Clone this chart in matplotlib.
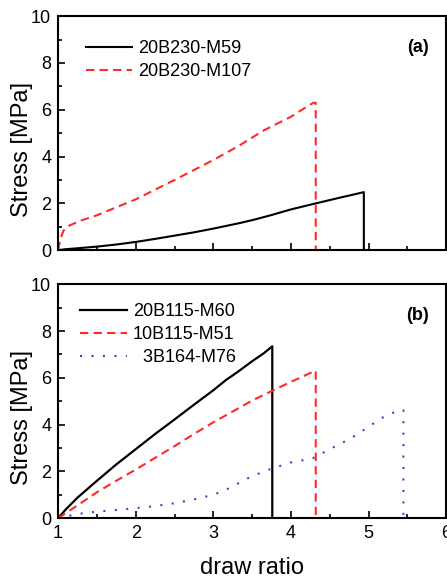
import matplotlib
matplotlib.use('Agg')
import matplotlib.pyplot as plt
from matplotlib.ticker import MultipleLocator

plt.rcParams['font.family'] = ['Liberation Sans', 'DejaVu Sans']

# panel (a)
a_m59_x = [1.0, 1.1, 1.25, 1.5, 1.75, 2.0, 2.25, 2.5, 2.75, 3.0, 3.33, 3.5, 3.75, 4.0, 4.31, 4.64, 4.8, 4.94, 4.94]
a_m59_y = [0.0, 0.04, 0.08, 0.15, 0.24, 0.35, 0.48, 0.62, 0.76, 0.92, 1.15, 1.28, 1.5, 1.74, 1.99, 2.25, 2.37, 2.48, 0.0]
a_m107_x = [1.0, 1.03, 1.07, 1.15, 1.3, 1.5, 1.75, 2.0, 2.5, 3.0, 3.33, 3.65, 4.0, 4.17, 4.29, 4.32, 4.32]
a_m107_y = [0.0, 0.48, 0.84, 1.06, 1.27, 1.49, 1.83, 2.17, 3.0, 3.85, 4.46, 5.12, 5.7, 6.06, 6.3, 6.3, 0.0]

# panel (b)
b_m60_x = [1.0, 1.1, 1.25, 1.5, 1.75, 2.0, 2.25, 2.5, 2.75, 3.0, 3.16, 3.3, 3.5, 3.65, 3.76, 3.76]
b_m60_y = [0.0, 0.38, 0.88, 1.6, 2.3, 2.95, 3.6, 4.22, 4.85, 5.47, 5.9, 6.22, 6.71, 7.05, 7.35, 0.0]
b_m51_x = [1.0, 1.25, 1.5, 1.75, 2.0, 2.25, 2.5, 2.75, 3.0, 3.26, 3.5, 3.76, 4.0, 4.15, 4.25, 4.3, 4.32, 4.32]
b_m51_y = [0.0, 0.55, 1.11, 1.6, 2.08, 2.58, 3.08, 3.6, 4.1, 4.58, 5.03, 5.45, 5.83, 6.05, 6.21, 6.3, 6.3, 0.0]
b_m76_x = [1.0, 1.25, 1.5, 1.75, 2.0, 2.25, 2.5, 2.75, 3.0, 3.16, 3.5, 3.75, 4.0, 4.28, 4.5, 4.77, 5.0, 5.16, 5.39, 5.45, 5.45]
b_m76_y = [0.0, 0.18, 0.28, 0.35, 0.43, 0.52, 0.64, 0.8, 1.0, 1.21, 1.8, 2.12, 2.38, 2.56, 2.95, 3.41, 3.9, 4.27, 4.62, 4.62, 0.0]

red = '#ff2a2a'
blue = '#2f4fc4'

fig = plt.figure(figsize=(4.47, 5.79), dpi=100)
ax1 = fig.add_axes([0.130, 0.568, 0.868, 0.404])
ax2 = fig.add_axes([0.130, 0.105, 0.868, 0.404])

ax1.plot(a_m59_x, a_m59_y, color='black', lw=1.5, label='20B230-M59')
ax1.plot(a_m107_x, a_m107_y, color=red, lw=1.5, dashes=(4, 2.5), label='20B230-M107')

ax2.plot(b_m60_x, b_m60_y, color='black', lw=1.6, label='20B115-M60')
ax2.plot(b_m51_x, b_m51_y, color=red, lw=1.5, dashes=(4, 2.5), label='10B115-M51')
ax2.plot(b_m76_x, b_m76_y, color=blue, lw=1.5, dashes=(1, 4.5), label='  3B164-M76')

for ax, tag in [(ax1, '(a)'), (ax2, '(b)')]:
    ax.set_xlim(1, 6)
    ax.set_ylim(0, 10)
    ax.xaxis.set_major_locator(MultipleLocator(1))
    ax.xaxis.set_minor_locator(MultipleLocator(0.5))
    ax.yaxis.set_major_locator(MultipleLocator(2))
    ax.yaxis.set_minor_locator(MultipleLocator(1))
    ax.tick_params(which='major', direction='in', length=5, width=1.2, labelsize=13,
                   top=False, right=False, pad=5)
    ax.tick_params(which='minor', direction='in', length=3, width=1.2, top=False, right=False)
    for s in ax.spines.values():
        s.set_linewidth(1.5)
    ax.set_ylabel('Stress [MPa]', fontsize=17)
    ax.yaxis.set_label_coords(-0.065, 0.43)
    ax.text(0.955, 0.868, tag, transform=ax.transAxes, fontsize=13, fontweight='bold',
            ha='right', va='center')

ax1.tick_params(labelbottom=False)
ax2.set_xlabel('draw ratio', fontsize=17, labelpad=11)

ax1.legend(loc='upper left', bbox_to_anchor=(0.052, 0.929), frameon=False, fontsize=13,
           handlelength=2.6, handletextpad=0.3, labelspacing=0.35, borderaxespad=0)
ax2.legend(loc='upper left', bbox_to_anchor=(0.039, 0.949), frameon=False, fontsize=13,
           handlelength=2.6, handletextpad=0.3, labelspacing=0.32, borderaxespad=0)

fig.savefig('out.png', dpi=100)
